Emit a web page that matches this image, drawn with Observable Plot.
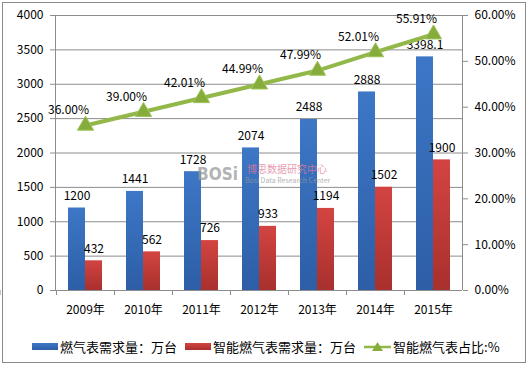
<!DOCTYPE html>
<html>
<head>
<meta charset="utf-8">
<script src="https://cdn.jsdelivr.net/npm/d3@7"></script>
<script src="https://cdn.jsdelivr.net/npm/@observablehq/plot@0.6"></script>
<style>
  html, body { margin: 0; padding: 0; background: #fff; }
  #wrap { position: relative; width: 530px; height: 368px; font-family: "Noto Sans CJK SC", "Noto Sans", sans-serif; }
  #border { position: absolute; left: 2px; top: 2px; width: 524px; height: 361px; border: 1px solid #8a8a8a; box-sizing: border-box; pointer-events: none; }
  #chart svg { display: block; }
  #legend { position: absolute; left: 32px; top: 337px; display: flex; align-items: center; font-size: 13px; color: #000; white-space: nowrap; }
  .item { display: flex; align-items: center; margin-right: 8px; }
  .sw { width: 26px; height: 7px; margin-right: 2px; }
  #wm { position: absolute; left: 197px; top: 168px; pointer-events: none; opacity: 0.75; }
</style>
</head>
<body>
<div id="wrap">
  <div id="chart"></div>
  <div id="legend"></div>
  <div id="wm">
    <span style="position:absolute;left:0;top:-4px;font:bold 17px 'DejaVu Sans Condensed','DejaVu Sans',sans-serif;color:#9a9a9a;line-height:20px;">BOSi</span>
    <span style="position:absolute;left:50px;top:-5px;font-size:10px;line-height:12px;color:#e07a98;white-space:nowrap;">博思数据研究中心</span>
    <span style="position:absolute;left:48px;top:8px;font-size:7px;line-height:8px;color:#9a9a9a;white-space:nowrap;">Bosi Data Research Center</span>
  </div>
  <div id="border"></div>
</div>
<script>
const years = ["2009年", "2010年", "2011年", "2012年", "2013年", "2014年", "2015年"];
const demand = [1200, 1441, 1728, 2074, 2488, 2888, 3398.1];
const smart = [432, 562, 726, 933, 1194, 1502, 1900];
const share = [36.00, 39.00, 42.01, 44.99, 47.99, 52.01, 55.91];
const leftTicks = [0, 500, 1000, 1500, 2000, 2500, 3000, 3500, 4000];
const rightTicks = [0, 10, 20, 30, 40, 50, 60];
const seriesNames = ["燃气表需求量：万台", "智能燃气表需求量：万台", "智能燃气表占比:%"];

const yMax = 4000, pMax = 60;
const pctToY = p => p / pMax * yMax;
const idx = d3.range(years.length);
const green = "#93b84a";
const gridColor = "#8c8c8c";

const frameMark = (index, scales, values, dims) => {
  const g = d3.create("svg:g").attr("stroke", gridColor).attr("fill", "none");
  const L = dims.marginLeft, R = dims.width - dims.marginRight;
  const T = dims.marginTop, B = dims.height - dims.marginBottom;
  g.append("line").attr("x1", L + 0.5).attr("x2", L + 0.5).attr("y1", T).attr("y2", B);
  g.append("line").attr("x1", R + 0.5).attr("x2", R + 0.5).attr("y1", T).attr("y2", B);
  g.append("line").attr("x1", L).attr("x2", R).attr("y1", B + 0.5).attr("y2", B + 0.5);
  const bw = scales.x.bandwidth ? scales.x.bandwidth : (R - L) / years.length;
  const edges = years.map(yr => scales.x(yr)).concat([scales.x(years[years.length - 1]) + bw]);
  edges.forEach(e => g.append("line").attr("x1", Math.round(e) + 0.5).attr("x2", Math.round(e) + 0.5).attr("y1", B).attr("y2", B + 5));
  return g.node();
};

const plot = Plot.plot({
  width: 530,
  height: 330,
  marginTop: 15,
  marginBottom: 40,
  marginLeft: 55,
  marginRight: 68,
  style: { fontFamily: "'Noto Sans CJK SC', 'Noto Sans', sans-serif", fontSize: "12px", color: "#000", background: "transparent" },
  x: { domain: years, padding: 0, label: null },
  y: { domain: [0, yMax], label: null },
  marks: [
    Plot.gridY(leftTicks, { stroke: gridColor, strokeOpacity: 1 }),
    Plot.axisY(leftTicks, { anchor: "left", tickSize: 5, tickPadding: 7, stroke: gridColor, label: null, fill: "#000",
      tickFormat: v => String(v) }),
    Plot.axisY(rightTicks.map(pctToY), { anchor: "right", tickSize: 5, tickPadding: 7, stroke: gridColor, label: null, fill: "#000",
      tickFormat: v => (v / yMax * pMax).toFixed(2) + "%" }),
    Plot.axisX({ tickSize: 0, tickPadding: 15, label: null, fill: "#000" }),
    Plot.barY(idx, { x: i => years[i], y: i => demand[i], fill: "url(#gBlue)", insetLeft: 12, insetRight: 29 }),
    Plot.barY(idx, { x: i => years[i], y: i => smart[i], fill: "url(#gRed)", insetLeft: 29, insetRight: 12 }),
    frameMark,
    Plot.text(idx, { x: i => years[i], y: i => demand[i], text: i => String(demand[i]), dx: -8.5, dy: -12, fill: "#000" }),
    Plot.text(idx, { x: i => years[i], y: i => smart[i], text: i => String(smart[i]), dx: 8.5, dy: -12, fill: "#000" }),
    Plot.line(idx, { x: i => years[i], y: i => pctToY(share[i]), stroke: green, strokeWidth: 4 }),
    Plot.dot(idx, { x: i => years[i], y: i => pctToY(share[i]), symbol: "triangle", r: 6, fill: "#86ad3c", stroke: "#9cc256", strokeWidth: 1 }),
    Plot.text(idx, { x: i => years[i], y: i => pctToY(share[i]), text: i => share[i].toFixed(2) + "%", dx: -17, dy: -15, fill: "#000" })
  ]
});

const svg = d3.select(plot);
const defs = svg.insert("defs", ":first-child");
const gb = defs.append("linearGradient").attr("id", "gBlue").attr("x1", 0).attr("x2", 0).attr("y1", 0).attr("y2", 1);
gb.append("stop").attr("offset", "0%").attr("stop-color", "#3d77c6");
gb.append("stop").attr("offset", "100%").attr("stop-color", "#2d5ea6");
const gr = defs.append("linearGradient").attr("id", "gRed").attr("x1", 0).attr("x2", 0).attr("y1", 0).attr("y2", 1);
gr.append("stop").attr("offset", "0%").attr("stop-color", "#d34441");
gr.append("stop").attr("offset", "100%").attr("stop-color", "#a8302d");

document.getElementById("chart").appendChild(plot);

const legend = d3.select("#legend");
const it1 = legend.append("div").attr("class", "item");
it1.append("div").attr("class", "sw").style("background", "linear-gradient(#3d77c6,#2d5ea6)");
it1.append("span").text(seriesNames[0]);
const it2 = legend.append("div").attr("class", "item");
it2.append("div").attr("class", "sw").style("background", "linear-gradient(#d34441,#a8302d)");
it2.append("span").text(seriesNames[1]);
const it3 = legend.append("div").attr("class", "item");
const s3 = it3.append("svg").attr("width", 27).attr("height", 12).style("margin-right", "2px");
s3.append("line").attr("x1", 0).attr("x2", 27).attr("y1", 6).attr("y2", 6).attr("stroke", green).attr("stroke-width", 2.5);
s3.append("path").attr("d", "M13.5,1 L19,10 L8,10 Z").attr("fill", "#86ad3c");
it3.append("span").text(seriesNames[2]);
</script>
</body>
</html>
